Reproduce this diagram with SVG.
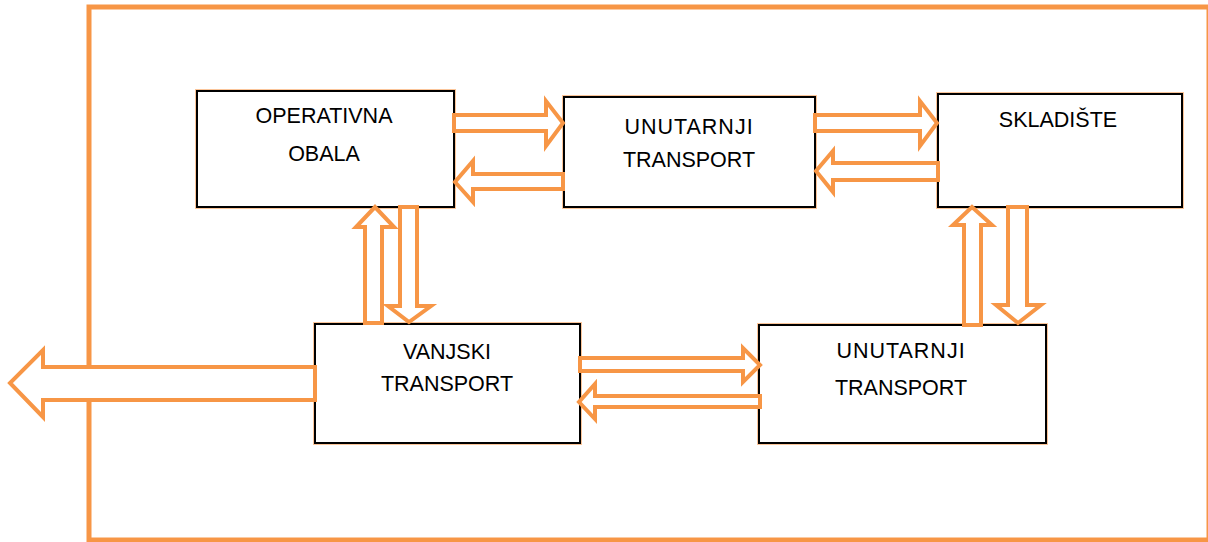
<svg xmlns="http://www.w3.org/2000/svg" width="1208" height="542" viewBox="0 0 1208 542">
<style>
.frame{fill:none;stroke:#F79646;stroke-width:5}
.box{fill:#fff;stroke:#000;stroke-width:2}
.halo{fill:none;stroke:#F79646;stroke-width:4;stroke-opacity:0.55}
.lbl{font-family:"Liberation Sans",Arial,sans-serif;font-size:21.5px;fill:#000;text-anchor:middle}
.arr{fill:#fff;stroke:#F79646;stroke-width:4;stroke-linejoin:miter}
</style>
<rect class="frame" x="89" y="7" width="1120" height="533"/>
<g id="operativna-obala">
<rect class="halo" x="197" y="91" width="257" height="116"/>
<rect class="box" x="197" y="91" width="257" height="116"/>
<text class="lbl" x="324" y="123">OPERATIVNA</text>
<text class="lbl" x="324" y="161">OBALA</text>
</g>
<g id="unutarnji-transport-1">
<rect class="halo" x="564" y="97" width="251" height="110"/>
<rect class="box" x="564" y="97" width="251" height="110"/>
<text class="lbl" x="689" y="134" letter-spacing="1">UNUTARNJI</text>
<text class="lbl" x="689" y="167">TRANSPORT</text>
</g>
<g id="skladiste">
<rect class="halo" x="938" y="94" width="244" height="113"/>
<rect class="box" x="938" y="94" width="244" height="113"/>
<text class="lbl" x="1058" y="127">SKLADIŠTE</text>
</g>
<g id="vanjski-transport">
<rect class="halo" x="315" y="324" width="265" height="119"/>
<rect class="box" x="315" y="324" width="265" height="119"/>
<text class="lbl" x="447" y="359">VANJSKI</text>
<text class="lbl" x="447" y="391">TRANSPORT</text>
</g>
<g id="unutarnji-transport-2">
<rect class="halo" x="759" y="325" width="287" height="118"/>
<rect class="box" x="759" y="325" width="287" height="118"/>
<text class="lbl" x="901" y="358" letter-spacing="1">UNUTARNJI</text>
<text class="lbl" x="901" y="395">TRANSPORT</text>
</g>
<g id="connectors">
<path class="arr" d="M454,115 L546,115 L546,101 L563,123 L546,146 L546,131 L454,131 Z"/>
<path class="arr" d="M563,174 L473,174 L473,161 L455,182 L473,202 L473,189 L563,189 Z"/>
<path class="arr" d="M815,115 L920,115 L920,101 L937,123 L920,146 L920,131 L815,131 Z"/>
<path class="arr" d="M938,163 L833,163 L833,151 L816,171 L833,192 L833,180 L938,180 Z"/>
<path class="arr" d="M365,323 L365,227 L356,227 L375,207 L394,227 L382,227 L382,323 Z"/>
<path class="arr" d="M400,207 L417,207 L417,306 L431,306 L409,322 L388,306 L400,306 Z"/>
<path class="arr" d="M964,325 L964,225 L953,225 L972,207 L992,225 L981,225 L981,325 Z"/>
<path class="arr" d="M1008,207 L1027,207 L1027,305 L1041,305 L1018,323 L996,305 L1008,305 Z"/>
<path class="arr" d="M580,358 L743,358 L743,348 L760,365 L743,382 L743,371 L580,371 Z"/>
<path class="arr" d="M760,396 L595,396 L595,384 L579,402 L595,419 L595,407 L760,407 Z"/>
<path class="arr" d="M315,367 L43,367 L43,350 L10,383 L43,417 L43,400 L315,400 Z"/>
</g>
</svg>
